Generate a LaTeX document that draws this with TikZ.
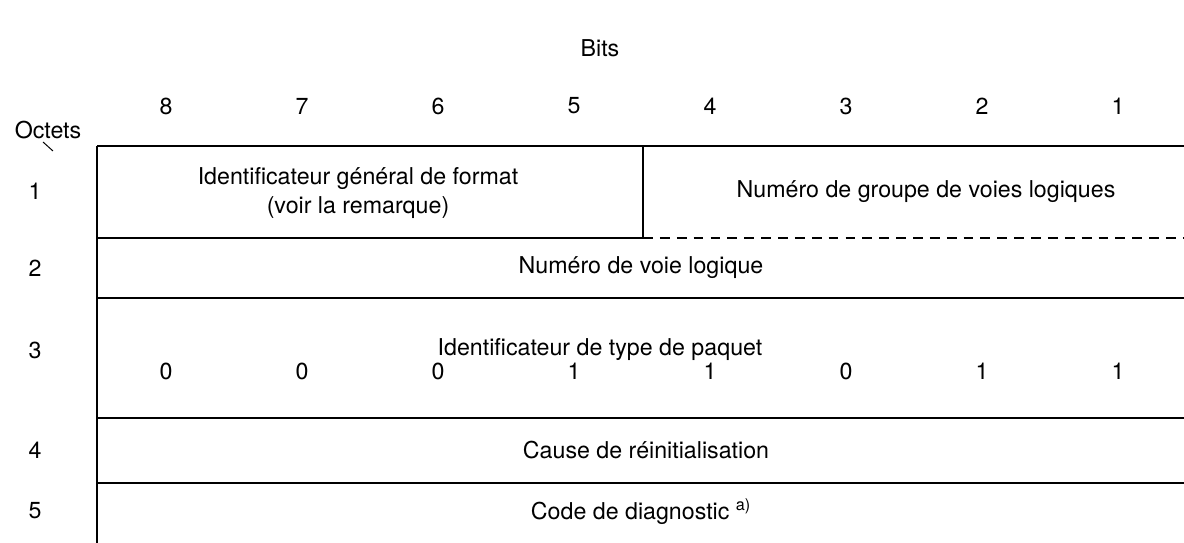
\documentclass[tikz,border=0pt]{standalone}
\usepackage{fontspec}
\setmainfont{TeX Gyre Heros}
\begin{document}
\begin{tikzpicture}[x=0.025cm,y=-0.025cm,line width=1.3pt,
        lbl/.style={font=\fontsize{16.5}{20}\selectfont,inner sep=1pt}]
        \useasboundingbox (0,0) rectangle (1184,543);

        % Bits
        \node[lbl] (bits) at (600,48) {Bits};
        \node[lbl] (b8) at (166,106) {8};
        \node[lbl] (b7) at (302,106) {7};
        \node[lbl] (b6) at (438,106) {6};
        \node[lbl] (b5) at (574,106) {5};
        \node[lbl] (b4) at (710,106) {4};
        \node[lbl] (b3) at (846,106) {3};
        \node[lbl] (b2) at (982,106) {2};
        \node[lbl] (b1) at (1118,106) {1};

        % Octets
        \node[lbl] (octets) at (48,130) {Octets};
        \coordinate (diagA) at (43,142);
        \coordinate (diagB) at (53,151);
        \draw[line width=0.7pt] (diagA) -- (diagB);
        \node[lbl] (o1) at (35,191) {1};
        \node[lbl] (o2) at (35,268) {2};
        \node[lbl] (o3) at (35,350) {3};
        \node[lbl] (o4) at (35,450) {4};
        \node[lbl] (o5) at (35,511) {5};

        % Rahmen
        \draw (97,146) -- (1184,146);
        \draw (97,146) -- (97,543);
        \draw (643,146) -- (643,238);
        \draw (97,238) -- (643,238);
        \draw[dash pattern=on 7pt off 5pt] (643,238) -- (1184,238);
        \draw (97,298) -- (1184,298);
        \draw (97,418) -- (1184,418);
        \draw (97,483) -- (1184,483);

        % Felder
        \node[lbl,align=center] (gfi) at (358,193) {Identificateur général de format\\(voir la remarque)};
        \node[lbl] (lcgn) at (926,192) {Numéro de groupe de voies logiques};
        \node[lbl] (lcn) at (641,268) {Numéro de voie logique};
        \node[lbl] (pti) at (600,350) {Identificateur de type de paquet};
        \node[lbl] (p8) at (166,371) {0};
        \node[lbl] (p7) at (302,371) {0};
        \node[lbl] (p6) at (438,371) {0};
        \node[lbl] (p5) at (574,371) {1};
        \node[lbl] (p4) at (710,371) {1};
        \node[lbl] (p3) at (846,371) {0};
        \node[lbl] (p2) at (982,371) {1};
        \node[lbl] (p1) at (1118,371) {1};
        \node[lbl] (cause) at (646,450) {Cause de réinitialisation};
        \node[lbl] (diag) at (641,512) {Code de diagnostic \textsuperscript{a)}};
    \end{tikzpicture}
\end{document}
